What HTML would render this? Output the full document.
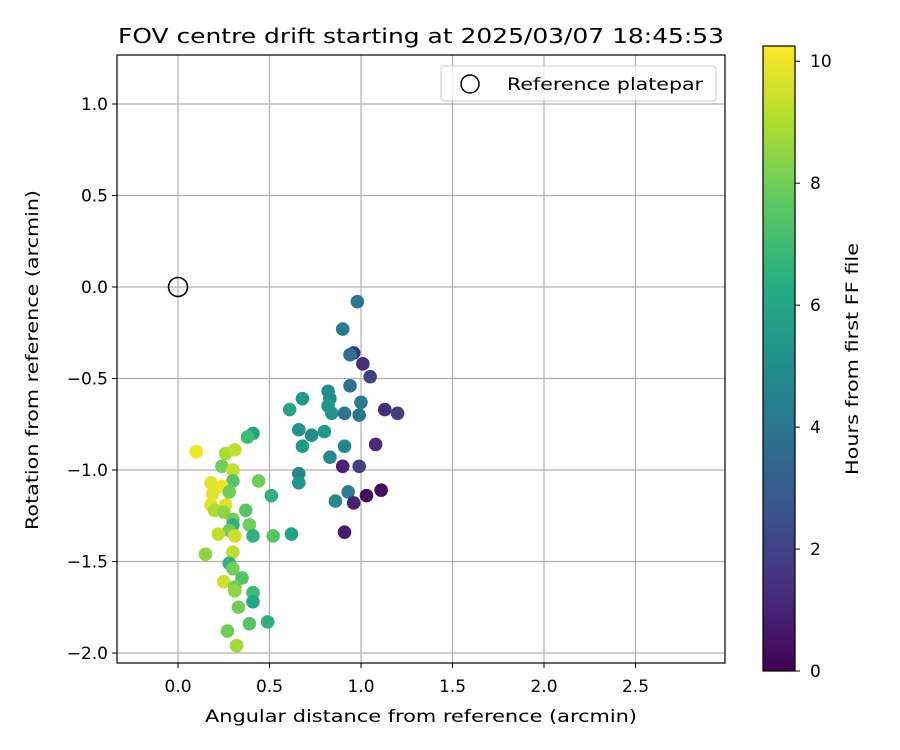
<!DOCTYPE html>
<html><head><meta charset="utf-8"><style>
html,body{margin:0;padding:0;background:#fff;}
svg{display:block;font-family:"DejaVu Sans","Liberation Sans",sans-serif;}
</style></head><body>
<svg id="c" width="900" height="750" viewBox="0 0 900 750" xmlns="http://www.w3.org/2000/svg">
<defs>
<linearGradient id="vir" x1="0" y1="1" x2="0" y2="0">
<stop offset="0" stop-color="#440154"/><stop offset="0.125" stop-color="#472d7b"/><stop offset="0.25" stop-color="#3b528b"/><stop offset="0.375" stop-color="#2c728e"/><stop offset="0.5" stop-color="#21918c"/><stop offset="0.625" stop-color="#28ae80"/><stop offset="0.75" stop-color="#5ec962"/><stop offset="0.875" stop-color="#addc30"/><stop offset="1" stop-color="#fde725"/>
</linearGradient>
</defs>
<text x="421" y="43" font-size="20" text-anchor="middle" textLength="606" lengthAdjust="spacingAndGlyphs">FOV centre drift starting at 2025/03/07 18:45:53</text>
<g id="grid"></g>
<g id="pts"></g>
<rect x="117" y="55" width="608" height="608" fill="none" stroke="#000" stroke-width="1.2"/>
<g id="ticks"></g>
<text x="421" y="722" font-size="17" text-anchor="middle" textLength="432" lengthAdjust="spacingAndGlyphs">Angular distance from reference (arcmin)</text>
<text transform="translate(38,360) rotate(-90)" font-size="17" text-anchor="middle" textLength="340" lengthAdjust="spacingAndGlyphs">Rotation from reference (arcmin)</text>
<g>
<rect x="441" y="66" width="275" height="35" rx="3" fill="#fff" fill-opacity="0.8" stroke="#ccc"/>
<circle cx="470" cy="84" r="9" fill="none" stroke="#000" stroke-width="1.5"/>
<text x="507" y="90" font-size="17" textLength="196" lengthAdjust="spacingAndGlyphs">Reference platepar</text>
</g>
<rect x="763" y="46" width="32" height="625" fill="url(#vir)" stroke="#000" stroke-width="1.2"/>
<g id="cbt"></g>
<text transform="translate(858,359) rotate(-90)" font-size="17" text-anchor="middle" textLength="232" lengthAdjust="spacingAndGlyphs">Hours from first FF file</text>
</svg>
<script>
const xs=[0.98,0.90,0.96,0.94,1.01,1.05,0.94,0.82,0.68,0.83,1.00,0.61,0.82,0.84,0.91,0.99,1.13,1.20,0.66,0.73,0.80,0.68,0.91,1.08,0.83,0.90,0.99,0.66,0.66,0.93,0.86,0.96,1.03,1.11,0.62,0.91,
0.41,0.38,0.10,0.26,0.31,0.24,0.30,0.30,0.44,0.18,0.24,0.28,0.19,0.51,0.18,0.26,0.20,0.25,0.37,0.30,0.39,0.30,0.28,0.22,0.31,0.41,0.52,0.15,0.30,0.28,0.30,0.35,0.25,0.31,0.31,0.41,0.41,0.33,0.39,0.49,0.27,0.32];
const ys=[-0.08,-0.23,-0.36,-0.37,-0.42,-0.49,-0.54,-0.57,-0.61,-0.61,-0.63,-0.67,-0.65,-0.69,-0.69,-0.70,-0.67,-0.69,-0.78,-0.81,-0.79,-0.87,-0.87,-0.86,-0.93,-0.98,-0.98,-1.02,-1.07,-1.12,-1.17,-1.18,-1.14,-1.11,-1.35,-1.34,
-0.80,-0.82,-0.90,-0.91,-0.89,-0.98,-1.00,-1.06,-1.06,-1.07,-1.09,-1.12,-1.13,-1.14,-1.19,-1.19,-1.22,-1.23,-1.22,-1.27,-1.30,-1.30,-1.33,-1.35,-1.36,-1.36,-1.36,-1.46,-1.45,-1.51,-1.54,-1.59,-1.61,-1.64,-1.66,-1.67,-1.72,-1.75,-1.84,-1.83,-1.88,-1.96];
const hours=[4,4.2,1.5,3.8,1.3,2,3.8,5,5.5,5,4.3,6,5.5,5.3,4,4,1.3,2,5.3,5,5.5,5.5,4.7,1.2,4.8,1,2,4.8,5.5,4.4,4.8,1,0.2,0.3,6,0.8,
6,7,10,9,9.3,8,9.3,7.5,8,9.8,10,8,9.8,6.5,9.8,9.8,9,8.5,7.5,8,8,6.5,8,9.3,9.5,6.5,7.5,8.5,9.2,6.5,8,7.5,9.5,8,8.5,7,6,8,7.5,6.5,8,8.8];
const xTicks=[0,0.5,1,1.5,2,2.5], xTickLabels=["0.0","0.5","1.0","1.5","2.0","2.5"];
const yTicks=[1,0.5,0,-0.5,-1,-1.5,-2], yTickLabels=["1.0","0.5","0.0","\u22120.5","\u22121.0","\u22121.5","\u22122.0"];
const cTicks=[0,2,4,6,8,10];
const NS="http://www.w3.org/2000/svg";
const X=v=>178+v*183, Y=v=>287-v*183, C=h=>671-(h/10.25)*625;
const vstops=[[68,1,84],[72,40,120],[62,73,137],[49,104,142],[38,130,142],[31,158,137],[53,183,121],[109,205,89],[180,222,44],[253,231,37]];
function vir(t){t=Math.max(0,Math.min(1,t))*9;const i=Math.min(8,Math.floor(t)),f=t-i,a=vstops[i],b=vstops[i+1];
return `rgb(${a.map((v,k)=>Math.round(v+(b[k]-v)*f)).join(',')})`;}
function mk(tag,at,par){const e=document.createElementNS(NS,tag);for(const k in at)e.setAttribute(k,at[k]);document.getElementById(par).appendChild(e);return e;}
xTicks.forEach((t,i)=>{
 const g=mk('line',{x1:X(t),x2:X(t),y1:55,y2:663,stroke:'#b0b0b0','stroke-width':1.2},'grid');
 
 
 const k=mk('line',{x1:X(t),x2:X(t),y1:663,y2:668,stroke:'#000'},'ticks');
 
 
 const l=mk('text',{x:X(t),y:692,'font-size':17,'text-anchor':'middle'},'ticks');l.textContent=xTickLabels[i];
 
 
});
yTicks.forEach((t,i)=>{
 const g=mk('line',{x1:117,x2:725,y1:Y(t),y2:Y(t),stroke:'#b0b0b0','stroke-width':1.2},'grid');
 
 
 const k=mk('line',{x1:112,x2:117,y1:Y(t),y2:Y(t),stroke:'#000'},'ticks');
 
 
 const l=mk('text',{x:108,y:Y(t)+6,'font-size':17,'text-anchor':'end'},'ticks');l.textContent=yTickLabels[i];
 
 
});
const ref=mk('circle',{cx:X(0),cy:Y(0),r:9.5,fill:'none',stroke:'#000','stroke-width':1.5},'pts');


xs.forEach((x,i)=>{
 const p=mk('circle',{cx:X(x),cy:Y(ys[i]),r:6.8,fill:vir(hours[i]/10.25)},'pts');
 
 
});
cTicks.forEach(t=>{
 const k=mk('line',{x1:795,x2:800,y1:C(t),y2:C(t),stroke:'#000'},'cbt');
 
 
 const l=mk('text',{x:810,y:C(t)+6,'font-size':17},'cbt');l.textContent=String(t);
 
 
});
</script>
</body></html>
